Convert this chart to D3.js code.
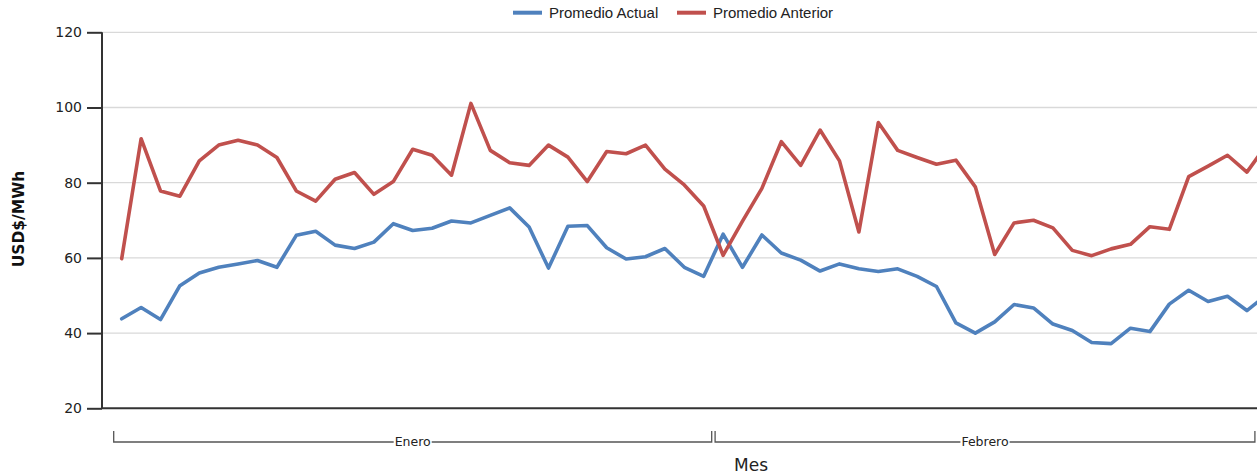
<!DOCTYPE html>
<html>
<head>
<meta charset="utf-8">
<script src="https://cdn.jsdelivr.net/npm/d3@7"></script>
<style>
  html, body { margin: 0; padding: 0; background: #fff; overflow: hidden; }
  svg { display: block; }
</style>
</head>
<body>
<svg id="chart" width="1257" height="473"></svg>
<script>
// ---- data ----
const months = ["Enero", "Febrero", "Marzo"];
const monthDays = [31, 28, 1];
const seriesNames = ["Promedio Actual", "Promedio Anterior"];
const yTicks = [20, 40, 60, 80, 100, 120];
const promedioActual = [
  43.8, 46.8, 43.6, 52.6, 56.0, 57.5, 58.4, 59.3, 57.5, 66.0,
  67.1, 63.4, 62.5, 64.2, 69.1, 67.3, 67.9, 69.8, 69.3, 71.3,
  73.3, 68.2, 57.3, 68.4, 68.6, 62.7, 59.7, 60.3, 62.5, 57.5,
  55.1,
  66.3, 57.5, 66.1, 61.3, 59.4, 56.5, 58.4, 57.1, 56.4, 57.1,
  55.1, 52.4, 42.7, 40.0, 43.0, 47.6, 46.7, 42.4, 40.7, 37.5,
  37.2, 41.3, 40.4, 47.7, 51.4, 48.4, 49.8, 46.0,
  50.1
];
const promedioAnterior = [
  59.8, 91.7, 77.8, 76.4, 85.8, 90.0, 91.3, 90.0, 86.7, 77.8,
  75.1, 80.9, 82.7, 76.9, 80.3, 88.9, 87.3, 82.0, 101.1, 88.6,
  85.3, 84.6, 90.0, 86.8, 80.3, 88.3, 87.7, 90.0, 83.6, 79.4,
  73.8,
  60.7, 69.8, 78.5, 90.9, 84.6, 94.0, 85.8, 66.9, 96.0, 88.6,
  86.7, 84.9, 86.0, 78.9, 60.9, 69.3, 70.0, 68.0, 62.0, 60.6,
  62.4, 63.6, 68.3, 67.6, 81.6, 84.4, 87.3, 82.8,
  90.0
];
const colors = ["#4f81bd", "#c0504d"];

(function () {
// categories (month/day)
const cats = [];
months.forEach((m, mi) => { for (let d = 1; d <= monthDays[mi]; d++) cats.push(m + "-" + d); });

// ---- layout ----
const W = 1257, H = 473;
const pLeft = 102, pTop = 32.3, pBottom = 408.3;
const step = 19.4;
const svg = d3.select("#chart");

const x = d3.scaleBand().domain(cats).range([112, 112 + cats.length * step]).padding(0);
const xc = c => x(c) + x.bandwidth() / 2;
const y = d3.scaleLinear().domain([20, 120]).range([pBottom, pTop]);

// gridlines
svg.append("g").selectAll("line").data(yTicks.filter(t => t > 20)).join("line")
  .attr("x1", pLeft).attr("x2", W).attr("y1", d => y(d)).attr("y2", d => y(d))
  .attr("stroke", "#d9d9d9").attr("stroke-width", 1.3);

// y axis
const yAxis = d3.axisLeft(y).tickValues(yTicks).tickSize(15).tickPadding(5);
const gy = svg.append("g").attr("transform", `translate(${pLeft},0)`).call(yAxis);
gy.select(".domain").attr("stroke", "#333").attr("stroke-width", 2).attr("d", `M0,${pTop}V${pBottom}`);
gy.selectAll(".tick line").attr("stroke", "#333").attr("stroke-width", 2);
gy.selectAll(".tick text").attr("font-family", "DejaVu Sans").attr("font-size", 14).attr("fill", "#222");

// x axis baseline
svg.append("line").attr("x1", pLeft).attr("x2", W).attr("y1", pBottom).attr("y2", pBottom)
  .attr("stroke", "#333").attr("stroke-width", 2);

// lines
const series = [promedioActual, promedioAnterior];
const line = d3.line().x((d, i) => xc(cats[i])).y(d => y(d));
series.forEach((s, si) => {
  svg.append("path").datum(s).attr("d", line).attr("fill", "none")
    .attr("stroke", colors[si]).attr("stroke-width", 3.6)
    .attr("stroke-linejoin", "round").attr("stroke-linecap", "round");
});

// month brackets
let idx = 0;
const bY = 442, bTop = 431;
months.forEach((m, mi) => {
  const first = cats[idx], last = cats[idx + monthDays[mi] - 1];
  idx += monthDays[mi];
  const x0 = x(first) + 1.7, x1 = x(last) + x.bandwidth() - 1.7;
  if (x0 >= W) return;
  const g = svg.append("g");
  const mid = (x0 + x1) / 2;
  const t = g.append("text").attr("x", mid).attr("y", bY + 4.2).attr("text-anchor", "middle")
    .attr("font-family", "DejaVu Sans").attr("font-size", 12.5).attr("fill", "#222").text(m);
  const tw = t.node().getComputedTextLength();
  g.append("path").attr("fill", "none").attr("stroke", "#555").attr("stroke-width", 1.3)
    .attr("d", `M${x0},${bTop}V${bY}H${mid - tw / 2 - 1}M${mid + tw / 2 + 1},${bY}H${x1}V${bTop}`);
});

// axis titles
svg.append("text").attr("x", 751).attr("y", 470.5).attr("text-anchor", "middle")
  .attr("font-family", "DejaVu Sans").attr("font-size", 17).attr("fill", "#222").text("Mes");
svg.append("text").attr("transform", "translate(23.5,219) rotate(-90)").attr("text-anchor", "middle")
  .attr("font-family", "DejaVu Sans").attr("font-weight", "bold").attr("font-size", 15.5)
  .attr("fill", "#111").text("USD$/MWh");

// legend
const legX = [513, 677];
seriesNames.forEach((n, i) => {
  svg.append("line").attr("x1", legX[i]).attr("x2", legX[i] + 29).attr("y1", 12.7).attr("y2", 12.7)
    .attr("stroke", colors[i]).attr("stroke-width", 4);
  svg.append("text").attr("x", legX[i] + 36).attr("y", 18).attr("font-family", "Liberation Sans")
    .attr("font-size", 15).attr("fill", "#222").text(n);
});
})();
</script>
</body>
</html>
